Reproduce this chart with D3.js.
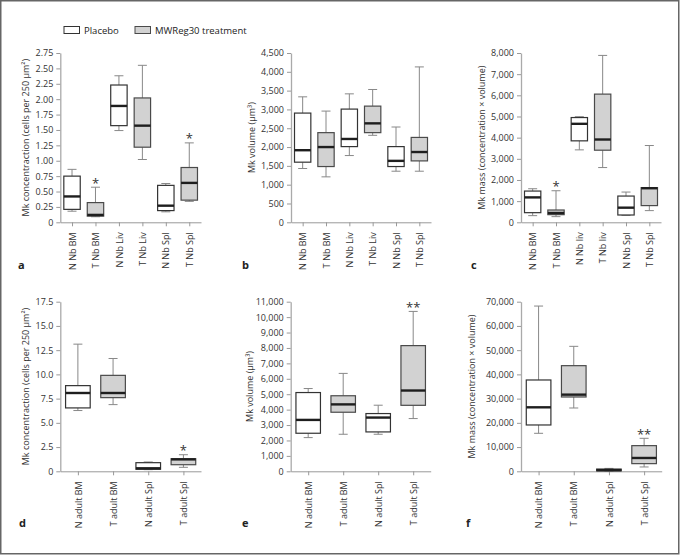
<!DOCTYPE html>
<html>
<head>
<meta charset="utf-8">
<script src="https://cdn.jsdelivr.net/npm/d3@7"></script>
<style>
  html, body { margin: 0; padding: 0; background: #fff; }
  svg { display: block; font-family: "Open Sans", "Noto Sans", sans-serif; }
</style>
</head>
<body>
<svg id="chart" width="681" height="556"></svg>
<script>
// ---------- DATA ----------
const groups = ["Placebo", "MWReg30 treatment"];

const catsNbA = ["N Nb BM", "T Nb BM", "N Nb Liv", "T Nb Liv", "N Nb Spl", "T Nb Spl"];
const catsNbC = ["N Nb BM", "T Nb BM", "N Nb liv", "T Nb liv", "N Nb Spl", "T Nb Spl"];
const catsAdult = ["N adult BM", "T adult BM", "N adult Spl", "T adult Spl"];

// each row: [lower whisker, Q1, median, Q3, upper whisker]
const concNb = [
  [0.18, 0.21, 0.42, 0.75, 0.86],
  [0.09, 0.10, 0.12, 0.32, 0.57],
  [1.49, 1.57, 1.89, 2.23, 2.38],
  [1.02, 1.22, 1.57, 2.02, 2.55],
  [0.17, 0.19, 0.27, 0.60, 0.63],
  [0.34, 0.36, 0.64, 0.89, 1.29]
];
const volNb = [
  [1430, 1598, 1916, 2903, 3335],
  [1208, 1482, 2000, 2383, 2956],
  [1774, 2012, 2215, 3009, 3414],
  [2312, 2383, 2630, 3088, 3530],
  [1358, 1482, 1633, 2012, 2533],
  [1358, 1632, 1868, 2256, 4130]
];
const massNb = [
  [314, 455, 1177, 1476, 1586],
  [267, 361, 440, 581, 1491],
  [3423, 3849, 4653, 4950, 4990],
  [2587, 3407, 3912, 6057, 7886],
  [330, 345, 691, 1240, 1429],
  [552, 789, 1610, 1640, 3628]
];
const concAdult = [
  [6.27, 6.54, 8.08, 8.84, 13.12],
  [6.88, 7.60, 8.08, 9.90, 11.64],
  [0.17, 0.21, 0.31, 0.89, 0.96],
  [0.41, 0.68, 1.23, 1.30, 1.71]
];
const volAdult = [
  [2186, 2468, 3333, 5108, 5368],
  [2403, 3831, 4340, 4900, 6350],
  [2403, 2554, 3485, 3745, 4286],
  [3420, 4280, 5239, 8152, 10370]
];
const massAdult = [
  [15680, 19120, 26410, 37690, 68200],
  [26130, 30670, 31640, 43600, 51580],
  [100, 200, 500, 900, 1200],
  [1790, 3160, 5500, 10590, 13620]
];

// significance marks per category
const starsNbA = ["", "*", "", "", "", "*"];
const starsNbB = ["", "", "", "", "", ""];
const starsNbC = ["", "*", "", "", "", ""];
const starsAdultD = ["", "", "", "*"];
const starsAdultE = ["", "", "", "**"];
const starsAdultF = ["", "", "", "**"];

// axis ticks
const ticksConcNb = d3.range(0, 2.76, 0.25);
const ticksVolNb = d3.range(0, 4501, 500);
const ticksMassNb = d3.range(0, 8001, 1000);
const ticksConcAdult = d3.range(0, 17.6, 2.5);
const ticksVolAdult = d3.range(0, 11001, 1000);
const ticksMassAdult = d3.range(0, 70001, 10000);

const titleConc = "Mk concentraction (cells per 250 µm²)";
const titleVol = "Mk volume (µm³)";
const titleMass = "Mk mass (concentration × volume)";

// ---------- DRAW ----------
const svg = d3.select("#chart");
const FILL = ["#ffffff", "#d2d2d2"];
const STROKE = ["#333333", "#4a4a4a"];

svg.append("rect")
  .attr("x", 0.75).attr("y", 0.75).attr("width", 678).attr("height", 553)
  .attr("fill", "none").attr("stroke", "#666").attr("stroke-width", 1.5);

function panel(o) {
  const g = svg.append("g");
  const y = d3.scaleLinear().domain([0, d3.max(o.ticks)]).range([o.y1, o.y0]);
  const x = d3.scalePoint().domain(o.cats).range([o.x0, o.x1]).padding(0.5);
  const bw = x.step() * 0.7;
  const cap = 9;

  // y axis
  const ya = g.append("g").attr("transform", `translate(${o.x0},0)`)
    .call(d3.axisLeft(y).tickValues(o.ticks).tickSize(4).tickSizeOuter(0).tickPadding(3).tickFormat(o.fmt));
  ya.select(".domain").attr("stroke", "#aaa").attr("stroke-width", 1.3);
  ya.selectAll(".tick line").attr("stroke", "#999");
  ya.selectAll("text").attr("fill", "#333").style("font-size", "9px").style("font-family", "Open Sans");

  // x axis
  const xa = g.append("g").attr("transform", `translate(0,${o.y1})`)
    .call(d3.axisBottom(x).tickSize(4).tickSizeOuter(0));
  xa.select(".domain").attr("stroke", "#999");
  xa.selectAll(".tick line").attr("stroke", "#999");
  xa.selectAll("text")
    .attr("transform", "rotate(-90)")
    .attr("x", -10).attr("y", 0).attr("dy", "0.35em")
    .style("text-anchor", "end")
    .attr("fill", "#333").style("font-size", "9px").style("font-family", "Open Sans");

  // boxes
  o.cats.forEach((c, i) => {
    const [lo, q1, md, q3, hi] = o.data[i];
    const cx = x(c);
    const grp = i % 2;
    const b = g.append("g");
    b.append("line").attr("x1", cx).attr("x2", cx).attr("y1", y(hi)).attr("y2", y(q3))
      .attr("stroke", "#888").attr("stroke-width", 1);
    b.append("line").attr("x1", cx).attr("x2", cx).attr("y1", y(q1)).attr("y2", y(lo))
      .attr("stroke", "#888").attr("stroke-width", 1);
    b.append("line").attr("x1", cx - cap / 2).attr("x2", cx + cap / 2).attr("y1", y(hi)).attr("y2", y(hi))
      .attr("stroke", "#888").attr("stroke-width", 1);
    b.append("line").attr("x1", cx - cap / 2).attr("x2", cx + cap / 2).attr("y1", y(lo)).attr("y2", y(lo))
      .attr("stroke", "#888").attr("stroke-width", 1);
    b.append("rect").attr("x", cx - bw / 2).attr("width", bw)
      .attr("y", y(q3)).attr("height", Math.max(0.5, y(q1) - y(q3)))
      .attr("fill", FILL[grp]).attr("stroke", STROKE[grp]).attr("stroke-width", 1.2);
    b.append("line").attr("x1", cx - bw / 2).attr("x2", cx + bw / 2).attr("y1", y(md)).attr("y2", y(md))
      .attr("stroke", "#1e1e1e").attr("stroke-width", 2.4);
    if (o.stars[i]) {
      g.append("text").attr("x", cx).attr("y", y(hi) - 8.5)
        .attr("text-anchor", "middle").attr("dominant-baseline", "central")
        .attr("dy", "0.3em")
        .style("font-size", "13px").attr("fill", "#333").text(o.stars[i]);
    }
  });

  // y title
  g.append("text")
    .attr("transform", `translate(${o.tx},${(o.y0 + o.y1) / 2}) rotate(-90)`)
    .attr("text-anchor", "middle").attr("dominant-baseline", "central")
    .style("font-size", "9px").attr("fill", "#333").text(o.title);

  // panel letter
  g.append("text").attr("x", o.lx).attr("y", o.ly)
    .style("font-size", "11px").style("font-weight", "bold").attr("fill", "#222").text(o.letter);
}

const fmt2 = d => d === 0 ? "0" : d3.format(".2f")(d);
const fmt1 = d => d === 0 ? "0" : d3.format(".1f")(d);
const fmtC = d3.format(",");

const topY0 = 53, topY1 = 222.3, botY0 = 301.7, botY1 = 471.3;

panel({cats: catsNbA, data: concNb, stars: starsNbA, ticks: ticksConcNb, fmt: fmt2, title: titleConc,
  x0: 60.3, x1: 201, y0: topY0, y1: topY1, tx: 25.5, letter: "a", lx: 18, ly: 269});
panel({cats: catsNbA, data: volNb, stars: starsNbB, ticks: ticksVolNb, fmt: fmtC, title: titleVol,
  x0: 291, x1: 431, y0: topY0, y1: topY1, tx: 251.7, letter: "b", lx: 242, ly: 269});
panel({cats: catsNbC, data: massNb, stars: starsNbC, ticks: ticksMassNb, fmt: fmtC, title: titleMass,
  x0: 521, x1: 661, y0: topY0, y1: topY1, tx: 481.7, letter: "c", lx: 471, ly: 269});
panel({cats: catsAdult, data: concAdult, stars: starsAdultD, ticks: ticksConcAdult, fmt: fmt1, title: titleConc,
  x0: 60.3, x1: 201, y0: botY0, y1: botY1, tx: 25.5, letter: "d", lx: 19, ly: 527});
panel({cats: catsAdult, data: volAdult, stars: starsAdultE, ticks: ticksVolAdult, fmt: fmtC, title: titleVol,
  x0: 290.7, x1: 430.7, y0: botY0, y1: botY1, tx: 249, letter: "e", lx: 242, ly: 527});
panel({cats: catsAdult, data: massAdult, stars: starsAdultF, ticks: ticksMassAdult, fmt: fmtC, title: titleMass,
  x0: 521, x1: 661.7, y0: botY0, y1: botY1, tx: 471.5, letter: "f", lx: 466, ly: 527});

// legend
const leg = svg.append("g");
const legX = [64, 135];
groups.forEach((gname, i) => {
  leg.append("rect").attr("x", legX[i]).attr("y", 26.5).attr("width", 15.5).attr("height", 7)
    .attr("fill", FILL[i]).attr("stroke", STROKE[i]).attr("stroke-width", 1);
  leg.append("text").attr("x", legX[i] + 20).attr("y", 30.2).attr("dominant-baseline", "central")
    .style("font-size", "9.5px").attr("fill", "#222").text(gname);
});
</script>
</body>
</html>
